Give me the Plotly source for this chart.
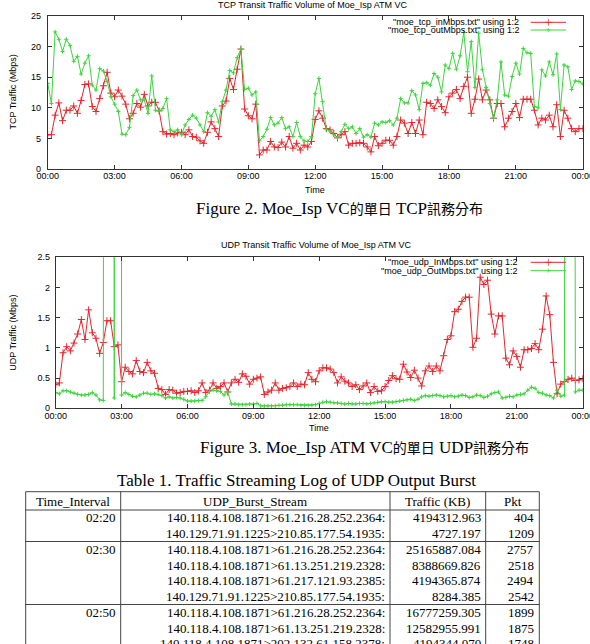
import plotly.graph_objects as go
import pandas as pd

W, H = 590, 644

# ---------------- data ----------------
times = pd.date_range("2004-01-01 00:00", periods=145, freq="10min")
tick_times = pd.date_range("2004-01-01 00:00", periods=9, freq="3h")
tick_labels = ["00:00", "03:00", "06:00", "09:00", "12:00", "15:00", "18:00", "21:00", "00:00"]

tcp_in = [
    5.6, 5.6, 8.8, 10.8, 7.9, 9.6, 9.6, 10.3, 9.1, 11.2,
    13.8, 13.9, 10.2, 9.4, 11.5, 13.6, 15.8, 12.4, 11.8, 12.9,
    11.9, 10.6, 8.2, 9.1, 10.7, 10.1, 12.2, 10.3, 10.9, 10.9,
    9.5, 6.1, 5.7, 5.8, 5.6, 5.9, 6.0, 5.6, 6.4, 5.3,
    5.2, 4.6, 4.2, 6.0, 7.7, 6.6, 5.3, 10.3, 11.1, 14.8,
    13.0, 16.3, 19.6, 9.8, 8.7, 8.2, 10.6, 2.3, 3.1, 3.1,
    4.5, 3.6, 3.5, 4.4, 3.6,
    5.3, 3.4, 4.2, 3.1, 3.9, 3.6, 4.5, 8.1, 9.5, 8.3,
    6.6, 6.4, 5.8, 5.1, 5.6, 6.1, 3.9, 4.2, 4.2, 4.3,
    4.2, 3.6, 2.8, 5.3, 3.8, 4.2, 4.7, 4.7, 3.9, 5.3,
    8.0, 7.5, 5.8, 7.6, 5.8, 8.0, 5.6, 10.9, 10.7, 9.9,
    11.3, 10.2, 9.2, 11.8, 12.4, 13.0, 11.5, 13.5, 15.0, 9.1,
    11.4, 14.7, 11.3, 12.9, 11.3, 8.3, 10.7, 10.7, 6.9, 8.3,
    9.4, 10.7, 8.4, 11.4, 11.4, 11.4, 9.6, 7.2, 8.3, 8.0,
    8.8, 6.9, 10.5, 5.3, 9.6, 8.3, 6.6, 6.1, 6.6, 6.6,
]
tcp_out = [
    14.0, 10.7, 22.4, 21.2, 19.2, 21.2, 20.2, 17.6, 18.4, 15.5,
    17.3, 18.5, 13.7, 12.9, 16.4, 16.0, 14.3, 11.8, 10.6, 9.4,
    5.7, 5.6, 6.8, 12.0, 12.9, 11.3, 11.3, 9.1, 15.2, 9.6,
    9.5, 9.9, 11.5, 6.4, 6.1, 6.4, 5.6, 7.2, 8.1, 8.8,
    8.3, 7.2, 6.1, 9.2, 8.6, 9.7, 7.7, 11.0, 12.9, 16.1,
    15.7, 18.2, 19.6, 13.0, 13.2, 12.1, 12.6, 4.6, 5.3, 6.5,
    8.4, 7.2, 7.5, 8.4, 6.6,
    6.9, 5.3, 7.6, 5.3, 4.6, 4.5, 5.3, 12.3, 14.8, 11.0,
    6.5, 6.2, 5.6, 5.1, 6.1, 7.3, 6.6, 6.9, 5.8, 6.6,
    5.2, 5.6, 5.2, 7.5, 7.2, 7.7, 7.6, 7.9, 7.2, 8.3,
    11.5, 10.8, 10.8, 12.8, 12.1, 9.7, 14.0, 14.1, 13.7, 15.6,
    15.0, 12.6, 17.0, 16.4, 18.9, 16.3, 18.5, 22.3, 15.9, 20.8,
    13.3, 22.2, 16.2, 13.3, 10.7, 8.3, 11.3, 17.5, 12.1, 11.9,
    15.1, 17.3, 15.5, 19.7, 19.0, 18.9, 10.2, 10.0, 16.2, 15.2,
    17.5, 15.4, 18.8, 9.7, 17.0, 16.7, 13.0, 14.4, 14.3, 13.9,
]
udp_in = [
    0.39, 0.42, 0.92, 1.02, 0.95, 1.08, 1.23, 1.47, 1.14, 1.63,
    1.25, 1.16, 0.91, 1.09, 1.45, 1.45, 1.02, 1.05, 0.44, 0.68,
    0.61, 0.57, 0.79, 0.61, 0.59, 0.76, 0.62, 0.58, 0.33, 0.31,
    0.23, 0.31, 0.30, 0.25, 0.26, 0.28, 0.28, 0.29, 0.26, 0.29,
    0.42, 0.26, 0.30, 0.42, 0.33, 0.36, 0.42, 0.27, 0.42, 0.48,
    0.43, 0.57, 0.53, 0.40, 0.48, 0.50, 0.52, 0.23, 0.27, 0.30,
    0.42, 0.30, 0.33, 0.34,
    0.36, 0.42, 0.36, 0.40, 0.39, 0.59, 0.48, 0.44, 0.62, 0.67,
    0.67, 0.65, 0.59, 0.42, 0.52, 0.45, 0.42, 0.36, 0.39, 0.31,
    0.37, 0.42, 0.26, 0.36, 0.28, 0.29, 0.36, 0.46, 0.54, 0.49,
    0.48, 0.73, 0.60, 0.51, 0.63, 0.50, 0.37, 0.62, 0.70, 0.61,
    0.70, 0.62, 0.87, 1.14, 1.20, 1.60, 1.64, 1.77, 1.84, 1.84,
    1.01, 1.16, 2.17, 2.05, 2.12, 1.56, 1.23, 1.53, 1.53, 0.83,
    0.72, 0.95, 0.86, 0.68, 0.97, 0.97, 0.99, 1.07, 0.97, 1.31,
    1.86, 1.55, 0.76, 0.24, 0.40, 0.44, 0.48, 0.50, 0.46, 0.47,
    0.49,
]
udp_out = [
    0.26, 0.24, 0.29, 0.29, 0.27, 0.25, 0.23, 0.22, 0.22, 0.23,
    0.26, 0.22, 0.14, 0.13, 56.0, 503.4, 0.17, 447.4, 0.22, 0.26,
    0.23, 0.20, 0.19, 0.22, 0.25, 0.25, 0.23, 0.24, 0.23, 0.21,
    0.17, 0.19, 0.17, 0.18, 0.17, 0.15, 0.12, 0.12, 0.12, 0.13,
    0.13, 0.19, 0.28, 0.30, 0.29, 0.28, 0.22, 0.27, 0.07, 0.07,
    0.06, 0.06, 0.06, 0.07, 0.07, 0.08, 0.04, 0.04, 0.04, 0.04,
    0.04, 0.05, 0.05, 0.06,
    0.06, 0.06, 0.06, 0.05, 0.05, 0.05, 0.05, 0.06, 0.08, 0.10,
    0.11, 0.10, 0.09, 0.09, 0.08, 0.07, 0.08, 0.07, 0.07, 0.08,
    0.08, 0.07, 0.08, 0.09, 0.10, 0.11, 0.11, 0.10, 0.10, 0.11,
    0.12, 0.13, 0.14, 0.15, 0.13, 0.15, 0.19, 0.21, 0.20, 0.21,
    0.22, 0.21, 0.19, 0.20, 0.21, 0.19, 0.20, 0.22, 0.21, 0.18,
    0.19, 0.22, 0.21, 0.18, 0.20, 0.24, 0.26, 0.27, 0.17, 0.18,
    0.20, 0.19, 0.22, 0.23, 0.24, 0.30, 0.35, 0.33, 0.26, 0.25,
    0.22, 0.21, 0.17, 0.30, 0.20, 0.22, 40.0, 35.0, 0.27, 0.30,
    0.30,
]

tcp_title = "TCP Transit Traffic Volume of Moe_Isp ATM VC"
udp_title = "UDP Transit Traffic Volume of Moe_Isp ATM VC"
tcp_names = ['"moe_tcp_inMbps.txt" using 1:2', '"moe_tcp_outMbps.txt" using 1:2']
udp_names = ['"moe_udp_InMbps.txt" using 1:2', '"moe_udp_OutMbps.txt" using 1:2']

table_title = "Table 1. Traffic Streaming Log of UDP Output Burst"
table_header = ["Time_Interval", "UDP_Burst_Stream", "Traffic (KB)", "Pkt"]
time_intervals = ["02:20", "02:30", "02:50"]
streams = [
    ["140.118.4.108.1871>61.216.28.252.2364:", "140.129.71.91.1225>210.85.177.54.1935:"],
    ["140.118.4.108.1871>61.216.28.252.2364:", "140.118.4.108.1871>61.13.251.219.2328:",
     "140.118.4.108.1871>61.217.121.93.2385:", "140.129.71.91.1225>210.85.177.54.1935:"],
    ["140.118.4.108.1871>61.216.28.252.2364:", "140.118.4.108.1871>61.13.251.219.2328:",
     "140.118.4.108.1871>202.132.61.158.2378:"],
]
traffic_kb = [
    ["4194312.963", "4727.197"],
    ["25165887.084", "8388669.826", "4194365.874", "8284.385"],
    ["16777259.305", "12582955.991", "4194344.070"],
]
pkts = [[404, 1209], [2757, 2518, 2494, 2542], [1899, 1875, 1748]]

# ---------------- styling ----------------
RED = "#e3262c"
GREEN = "#3ed43e"
AXC = "#333333"
SANS = "Liberation Sans, Arial, sans-serif"
SERIF = "Liberation Serif, Times New Roman, serif"
CJK = "'Noto Sans CJK TC'"
RED_M = (5, 1.0)
GREEN_M = (3, 1.0)


def fx(px):
    return px / W


def fy(py):
    return 1 - py / H


fig = go.Figure()

series = [
    (tcp_in, RED, "x", "y", RED_M),
    (tcp_out, GREEN, "x", "y", GREEN_M),
    (udp_in, RED, "x2", "y2", RED_M),
    (udp_out, GREEN, "x2", "y2", GREEN_M),
]
for vals, col, xa, ya, (msz, mw) in series:
    fig.add_trace(go.Scatter(
        x=times, y=vals, xaxis=xa, yaxis=ya, mode="lines+markers",
        line=dict(color=col, width=1),
        marker=dict(symbol="cross-thin", size=msz, color=col, line=dict(color=col, width=mw)),
        hoverinfo="skip",
    ))

# legend samples on a full-page pixel axis
LEG_X0, LEG_X1 = 530.7, 566.0
leg_rows = [(22.3, RED, RED_M), (30.0, GREEN, GREEN_M), (262.3, RED, RED_M), (270.7, GREEN, GREEN_M)]
for yy, col, (msz, mw) in leg_rows:
    fig.add_trace(go.Scatter(
        x=[LEG_X0, (LEG_X0 + LEG_X1) / 2, LEG_X1], y=[yy, yy, yy], xaxis="x3", yaxis="y3",
        mode="lines+markers", line=dict(color=col, width=1),
        marker=dict(symbol="cross-thin", size=[0, msz, 0], color=col, line=dict(color=col, width=mw)),
        hoverinfo="skip",
    ))

axis_common = dict(
    showline=True, linecolor=AXC, linewidth=1, mirror="ticks", ticks="inside",
    ticklen=4, tickcolor=AXC, showgrid=False, zeroline=False,
    tickfont=dict(family=SANS, size=9, color="#000"), automargin=False, fixedrange=True,
)

xr = [times[0], times[-1]]
fig.update_layout(
    width=W, height=H, margin=dict(l=0, r=0, t=0, b=0),
    paper_bgcolor="white", plot_bgcolor="rgba(0,0,0,0)", showlegend=False,
    template="none", font=dict(family=SANS, size=9, color="#000"),
    xaxis=dict(domain=[fx(47.7), fx(582.7)], anchor="y", range=xr, type="date",
               tickvals=tick_times, ticktext=tick_labels, ticklabelstandoff=-2,
               ticklabeloverflow="allow", **axis_common),
    yaxis=dict(domain=[fy(169), fy(16)], anchor="x", range=[0, 25], dtick=5, tick0=0,
               ticklabelstandoff=4, **axis_common),
    xaxis2=dict(domain=[fx(55.7), fx(582.7)], anchor="y2", range=xr, type="date",
                tickvals=tick_times, ticktext=tick_labels, ticklabelstandoff=-1,
                ticklabeloverflow="allow", **axis_common),
    yaxis2=dict(domain=[fy(408.3), fy(257.3)], anchor="x2", range=[0, 2.5], dtick=0.5, tick0=0,
                ticklabelstandoff=3, **axis_common),
    xaxis3=dict(domain=[0, 1], range=[0, W], visible=False, fixedrange=True, anchor="y3"),
    yaxis3=dict(domain=[0, 1], range=[H, 0], visible=False, fixedrange=True, anchor="x3"),
)

ann = []


def text(x, y, t, size=9, family=SANS, xanchor="center", angle=0):
    ann.append(dict(x=fx(x), y=fy(y), xref="paper", yref="paper", text=t, showarrow=False,
                    xanchor=xanchor, yanchor="middle", textangle=angle,
                    font=dict(family=family, size=size, color="#000")))


# chart texts
text(313, 5, tcp_title)
text(315, 190, "Time")
text(12, 92.5, "TCP Traffic (Mbps)", angle=-90)
text(520.7, 22.3, tcp_names[0], xanchor="right")
text(520.7, 30.0, tcp_names[1], xanchor="right")

text(316, 245, udp_title)
text(319, 427.5, "Time")
text(13, 332.8, "UDP Traffic (Mbps)", angle=-90)
text(519.3, 262.3, udp_names[0], xanchor="right")
text(519.3, 270.7, udp_names[1], xanchor="right")


def cjk(s):
    return '<span style="font-family:%s;font-size:14px">%s</span>' % (CJK, s)


text(194, 208, "Figure 2. Moe_Isp VC" + cjk("的單日") + " TCP" + cjk("訊務分布"),
     size=17, family=SERIF, xanchor="left")
text(198, 446.5, "Figure 3. Moe_Isp ATM VC" + cjk("的單日") + " UDP" + cjk("訊務分布"),
     size=17, family=SERIF, xanchor="left")
text(296, 480, table_title, size=17, family=SERIF)

# ---------------- table ----------------
col_edges = [25.7, 120.7, 390.0, 485.7, 539.3]
TBL_TOP, HDR_BOT, PITCH, PAD = 491.7, 510.0, 15.75, 3.0
TBL_BOT = H + 20
LC = "#444444"

shapes = []


def hline(y):
    shapes.append(dict(type="line", xref="paper", yref="paper", x0=fx(col_edges[0]), x1=fx(col_edges[-1]),
                       y0=fy(y), y1=fy(y), line=dict(color=LC, width=1)))


for xe in col_edges:
    shapes.append(dict(type="line", xref="paper", yref="paper", x0=fx(xe), x1=fx(xe),
                       y0=fy(TBL_TOP), y1=fy(TBL_BOT), line=dict(color=LC, width=1)))
hline(TBL_TOP)
hline(HDR_BOT)

for i, h in enumerate(table_header):
    text((col_edges[i] + col_edges[i + 1]) / 2, (TBL_TOP + HDR_BOT) / 2 + 0.5, h, size=13, family=SERIF)

gtop = HDR_BOT
for g, ti in enumerate(time_intervals):
    n = len(streams[g])
    for k in range(n):
        yc = gtop + PITCH / 2 + k * PITCH
        if k == 0:
            text(col_edges[1] - PAD, yc, ti, size=13, family=SERIF, xanchor="right")
        text(col_edges[2] - PAD, yc, streams[g][k], size=13, family=SERIF, xanchor="right")
        text(col_edges[3] - PAD, yc, traffic_kb[g][k], size=13, family=SERIF, xanchor="right")
        text(col_edges[4] - PAD, yc, str(pkts[g][k]), size=13, family=SERIF, xanchor="right")
    gtop += n * PITCH
    hline(gtop)

fig.update_layout(annotations=ann, shapes=shapes)
fig.write_html("out.html")
